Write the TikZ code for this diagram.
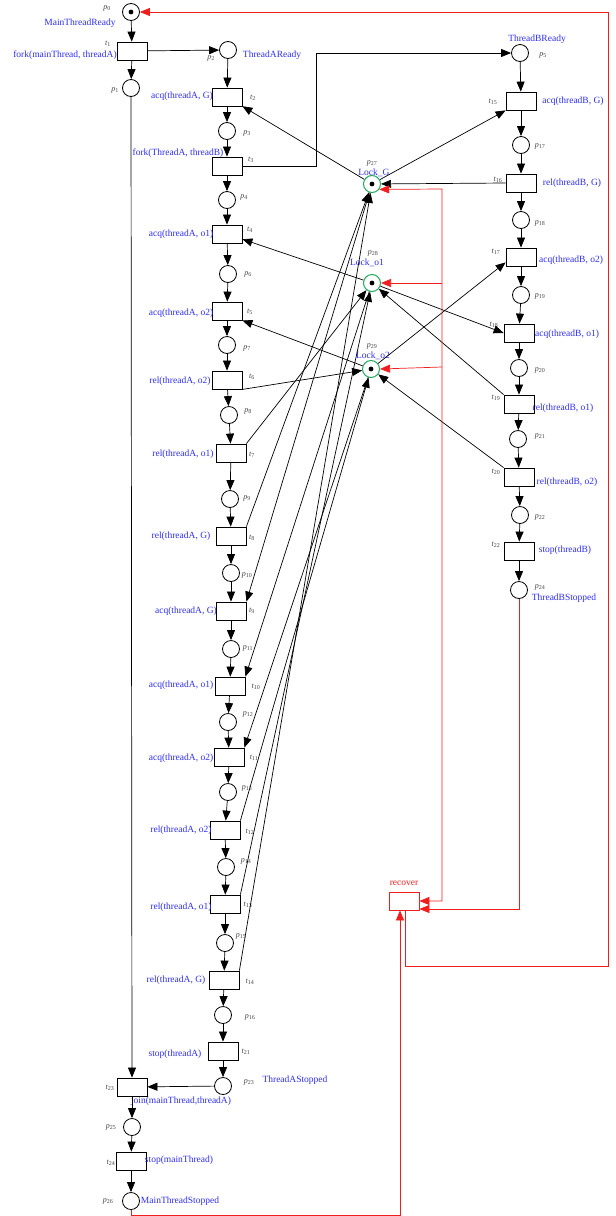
\documentclass[tikz,border=0pt]{standalone}
\usepackage{fontspec}
\setmainfont{Liberation Serif}
\usetikzlibrary{arrows.meta,calc}
\definecolor{lblue}{RGB}{45,45,245}
\definecolor{lgray}{RGB}{70,70,70}
\definecolor{lgreen}{RGB}{30,170,90}
\definecolor{rred}{RGB}{240,30,30}
\newcommand{\pl}[2]{{\itshape #1}\textsubscript{#2}}
\begin{document}
\begin{tikzpicture}[x=1pt,y=-1pt,
  place/.style={draw,circle,minimum size=17pt,inner sep=0pt,line width=0.8pt},
  lock/.style={place,draw=lgreen,line width=1pt},
  trans/.style={draw,rectangle,minimum width=30pt,minimum height=18pt,inner sep=0pt,line width=0.8pt},
  rtrans/.style={trans,draw=rred},
  arc/.style={-{Triangle[length=10pt,width=8pt]},line width=0.7pt},
  redarc/.style={-{Triangle[length=10pt,width=8pt]},line width=0.7pt,draw=rred,color=rred},
  nm/.style={font=\fontsize{8}{9}\selectfont,text=lgray,inner sep=0pt},
  txt/.style={font=\fontsize{9.5}{11}\selectfont,text=lblue,inner sep=0pt},
  rtxt/.style={font=\fontsize{9.5}{11}\selectfont,text=rred,inner sep=0pt}]
\useasboundingbox (0,0) rectangle (616,1216);
% main thread
\node[place] (p0) at (131,12) {};
\node[trans] (t1) at (132,51) {};
\node[place] (p1) at (131,88) {};
% thread A
\node[place] (p2) at (228,50) {};
\node[trans] (t2) at (227,97) {};
\node[place] (p3) at (227,131) {};
\node[trans] (t3) at (227,166) {};
\node[place] (p4) at (227,200) {};
\node[trans] (t4) at (227,234) {};
\node[place] (p6) at (228,274) {};
\node[trans] (t5) at (227,311) {};
\node[place] (p7) at (227,345) {};
\node[trans] (t6) at (227,380) {};
\node[place] (p8) at (229,415) {};
\node[trans] (t7) at (231,453) {};
\node[place] (p9) at (230,499) {};
\node[trans] (t8) at (231,536) {};
\node[place] (p10) at (231,573) {};
\node[trans] (t9) at (231,611) {};
\node[place] (p11) at (231,649) {};
\node[trans] (t10) at (230,686) {};
\node[place] (p12) at (228,722) {};
\node[trans] (t11) at (229,757) {};
\node[place] (p13) at (228,792) {};
\node[trans] (t12) at (225,830) {};
\node[place] (p14) at (226,867) {};
\node[trans] (t13) at (225,904) {};
\node[place] (p15) at (225,943) {};
\node[trans] (t14) at (224,980) {};
\node[place] (p16) at (223,1015) {};
\node[trans] (t21) at (223,1051) {};
\node[place] (p23) at (223,1086) {};
\node[trans] (t23) at (132,1087) {};
\node[place] (p25) at (132,1127) {};
\node[trans] (t24) at (131,1161) {};
\node[place] (p26) at (131,1201) {};
% thread B
\node[place] (p5) at (520,53) {};
\node[trans] (t15) at (521,101) {};
\node[place] (p17) at (521,145) {};
\node[trans] (t16) at (521,183) {};
\node[place] (p18) at (521,220) {};
\node[trans] (t17) at (521,257) {};
\node[place] (p19) at (521,295) {};
\node[trans] (t18) at (519,333) {};
\node[place] (p20) at (519,368) {};
\node[trans] (t19) at (519,404) {};
\node[place] (p21) at (518,439) {};
\node[trans] (t20) at (519,477) {};
\node[place] (p22) at (520,515) {};
\node[trans] (t22) at (519,551) {};
\node[place] (p24) at (519,590) {};
% locks
\node[lock] (LG) at (372,184) {};
\node[lock] (Lo1) at (372,283) {};
\node[lock] (Lo2) at (371,369) {};
\node[rtrans] (rec) at (404,901) {};
% tokens
\foreach \n in {p0,LG,Lo1,Lo2} \fill (\n) circle (2.4pt);
% labels
\node[nm] at (107,8) {\pl{p}{0}};
\node[txt] at (80,23) {MainThreadReady};
\node[nm] at (108,44) {\pl{t}{1}};
\node[txt] at (65,55) {fork(mainThread, threadA)};
\node[nm] at (115,90) {\pl{p}{1}};
\node[nm] at (211,58) {\pl{p}{2}};
\node[txt] at (272,55) {ThreadAReady};
\node[nm] at (253,98) {\pl{t}{2}};
\node[txt] at (182,96) {acq(threadA, G)};
\node[nm] at (247,133) {\pl{p}{3}};
\node[txt] at (178,153) {fork(ThreadA, threadB)};
\node[nm] at (251,160) {\pl{t}{3}};
\node[nm] at (244,197) {\pl{p}{4}};
\node[nm] at (250,230) {\pl{t}{4}};
\node[txt] at (181,234) {acq(threadA, o1)};
\node[nm] at (248,274) {\pl{p}{6}};
\node[nm] at (250,312) {\pl{t}{5}};
\node[txt] at (181,313) {acq(threadA, o2)};
\node[nm] at (247,348) {\pl{p}{7}};
\node[nm] at (252,377) {\pl{t}{6}};
\node[txt] at (180,381) {rel(threadA, o2)};
\node[nm] at (248,411) {\pl{p}{8}};
\node[nm] at (252,455) {\pl{t}{7}};
\node[txt] at (183,454) {rel(threadA, o1)};
\node[nm] at (247,498) {\pl{p}{9}};
\node[nm] at (252,538) {\pl{t}{8}};
\node[txt] at (181,536) {rel(threadA, G)};
\node[nm] at (247,575) {\pl{p}{10}};
\node[nm] at (252,611) {\pl{t}{9}};
\node[txt] at (186,611) {acq(threadA, G)};
\node[nm] at (248,648) {\pl{p}{11}};
\node[nm] at (256,687) {\pl{t}{10}};
\node[txt] at (181,685) {acq(threadA, o1)};
\node[nm] at (248,714) {\pl{p}{12}};
\node[nm] at (254,758) {\pl{t}{11}};
\node[txt] at (181,758) {acq(threadA, o2)};
\node[nm] at (247,788) {\pl{p}{13}};
\node[nm] at (250,832) {\pl{t}{12}};
\node[txt] at (181,830) {rel(threadA, o2)};
\node[nm] at (246,861) {\pl{p}{14}};
\node[nm] at (248,905) {\pl{t}{13}};
\node[txt] at (181,907) {rel(threadA, o1)};
\node[nm] at (241,936) {\pl{p}{15}};
\node[nm] at (250,982) {\pl{t}{14}};
\node[txt] at (176,980) {rel(threadA, G)};
\node[nm] at (250,1017) {\pl{p}{16}};
\node[nm] at (246,1052) {\pl{t}{21}};
\node[txt] at (175,1054) {stop(threadA)};
\node[nm] at (249,1082) {\pl{p}{23}};
\node[txt] at (295,1080) {ThreadAStopped};
\node[nm] at (110,1088) {\pl{t}{23}};
\node[txt] at (181,1101) {join(mainThread,threadA)};
\node[nm] at (111,1127) {\pl{p}{25}};
\node[nm] at (111,1163) {\pl{t}{24}};
\node[txt] at (179,1160) {stop(mainThread)};
\node[nm] at (108,1201) {\pl{p}{26}};
\node[txt] at (180,1201) {MainThreadStopped};
\node[txt] at (537,39) {ThreadBReady};
\node[nm] at (543,55) {\pl{p}{5}};
\node[nm] at (493,102) {\pl{t}{15}};
\node[txt] at (573,101) {acq(threadB, G)};
\node[nm] at (540,146) {\pl{p}{17}};
\node[nm] at (498,180) {\pl{t}{16}};
\node[txt] at (572,183) {rel(threadB, G)};
\node[nm] at (540,223) {\pl{p}{18}};
\node[nm] at (496,252) {\pl{t}{17}};
\node[txt] at (571,260) {acq(threadB, o2)};
\node[nm] at (540,296) {\pl{p}{19}};
\node[nm] at (494,325) {\pl{t}{18}};
\node[txt] at (567,334) {acq(threadB, o1)};
\node[nm] at (540,370) {\pl{p}{20}};
\node[nm] at (496,398) {\pl{t}{19}};
\node[txt] at (563,408) {rel(threadB, o1)};
\node[nm] at (540,436) {\pl{p}{21}};
\node[nm] at (496,472) {\pl{t}{20}};
\node[txt] at (567,482) {rel(threadB, o2)};
\node[nm] at (540,517) {\pl{p}{22}};
\node[nm] at (496,545) {\pl{t}{22}};
\node[txt] at (565,550) {stop(threadB)};
\node[nm] at (540,587) {\pl{p}{24}};
\node[txt] at (564,598) {ThreadBStopped};
\node[nm] at (372,163) {\pl{p}{27}};
\node[txt] at (374,173) {Lock\_G};
\node[nm] at (373,253) {\pl{p}{28}};
\node[txt] at (367,263) {Lock\_o1};
\node[nm] at (372,346) {\pl{p}{29}};
\node[txt] at (373,356) {Lock\_o2};
\node[rtxt] at (404,883) {recover};
% main flow arcs
\draw[arc] (p0) -- (t1);
\draw[arc] (t1) -- (p1);
\draw[arc] (t1) -- (p2);
\draw[arc] (p1) -- (t23);
\draw[arc] (p23) -- (t23);
\draw[arc] (t23) -- (p25);
\draw[arc] (p25) -- (t24);
\draw[arc] (t24) -- (p26);
\draw[arc] (p2) -- (t2);
\draw[arc] (t2) -- (p3);
\draw[arc] (p3) -- (t3);
\draw[arc] (t3) -- (p4);
\draw[arc] (p4) -- (t4);
\draw[arc] (t4) -- (p6);
\draw[arc] (p6) -- (t5);
\draw[arc] (t5) -- (p7);
\draw[arc] (p7) -- (t6);
\draw[arc] (t6) -- (p8);
\draw[arc] (p8) -- (t7);
\draw[arc] (t7) -- (p9);
\draw[arc] (p9) -- (t8);
\draw[arc] (t8) -- (p10);
\draw[arc] (p10) -- (t9);
\draw[arc] (t9) -- (p11);
\draw[arc] (p11) -- (t10);
\draw[arc] (t10) -- (p12);
\draw[arc] (p12) -- (t11);
\draw[arc] (t11) -- (p13);
\draw[arc] (p13) -- (t12);
\draw[arc] (t12) -- (p14);
\draw[arc] (p14) -- (t13);
\draw[arc] (t13) -- (p15);
\draw[arc] (p15) -- (t14);
\draw[arc] (t14) -- (p16);
\draw[arc] (p16) -- (t21);
\draw[arc] (t21) -- (p23);
\draw[arc] (t3.east) -- ++(74,0) |- (p5.west);
\draw[arc] (p5) -- (t15);
\draw[arc] (t15) -- (p17);
\draw[arc] (p17) -- (t16);
\draw[arc] (t16) -- (p18);
\draw[arc] (p18) -- (t17);
\draw[arc] (t17) -- (p19);
\draw[arc] (p19) -- (t18);
\draw[arc] (t18) -- (p20);
\draw[arc] (p20) -- (t19);
\draw[arc] (t19) -- (p21);
\draw[arc] (p21) -- (t20);
\draw[arc] (t20) -- (p22);
\draw[arc] (p22) -- (t22);
\draw[arc] (t22) -- (p24);
% lock arcs
\draw[arc] (LG) -- (t2);
\draw[arc] (LG) -- (t15.south west);
\draw[arc] (t16.west) -- (LG);
\draw[arc] (t8.north east) -- (LG);
\draw[arc] (t14.north east) -- (LG);
\draw[arc] (LG) -- (t9.north east);
\draw[arc] (Lo1) -- (t4);
\draw[arc] (t7.north east) -- (Lo1);
\draw[arc] (Lo1) -- (t10.north east);
\draw[arc] (t13.north east) -- (Lo1);
\draw[arc] (Lo1) -- (t18.west);
\draw[arc] (t19.north west) -- (Lo1);
\draw[arc] (Lo2) -- (t5.south east);
\draw[arc] (t6.south east) -- (Lo2);
\draw[arc] (Lo2) -- (t11.north east);
\draw[arc] (t12.north east) -- (Lo2);
\draw[arc] (Lo2) -- ([yshift=4pt]t17.south west);
\draw[arc] (t20.north west) -- (Lo2);
% red arcs
\coordinate (busG) at (442,189);
\coordinate (bus1) at (442,283);
\coordinate (bus2) at (442,367);
\draw[redarc,{Triangle[length=10pt,width=8pt]}-{Triangle[length=10pt,width=8pt]}] (rec.east) -| (busG) -- (LG.-37);
\draw[redarc] (bus1) -- (Lo1.east);
\draw[redarc] (bus2) -- (Lo2.east);
\draw[redarc] (p24.south) |- ([yshift=-8pt]rec.east);
\draw[redarc] (p26.south) |- (400,1215) -- ([xshift=-4pt]rec.south);
\draw[redarc] ([xshift=1pt]rec.south) |- (608,966) |- (p0.east);
\end{tikzpicture}
\end{document}
